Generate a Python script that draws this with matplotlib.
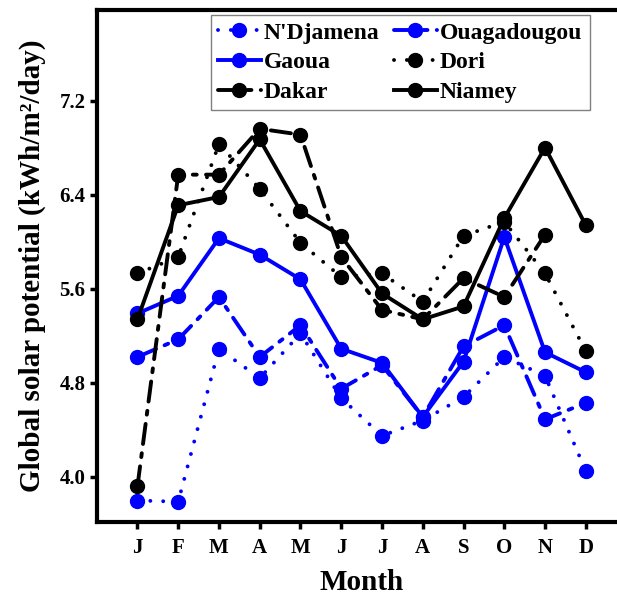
import numpy as np
import matplotlib
matplotlib.use("Agg")
from matplotlib import pyplot as plt

plt.rcParams['font.family'] = ['Liberation Serif', 'DejaVu Serif']
plt.rcParams['font.weight'] = 'bold'

# monthly global solar potential (kWh/m2/day)
months = np.arange(1, 13)
month_labels = ['J', 'F', 'M', 'A', 'M', 'J', 'J', 'A', 'S', 'O', 'N', 'D']

ndjamena = [3.80, 3.79, 5.09, 4.84, 5.22, 4.67, 4.35, 4.48, 4.68, 5.02, 4.86, 4.05]
ouagadougou = [5.02, 5.17, 5.53, 5.02, 5.29, 4.75, 4.95, 4.51, 5.11, 5.29, 4.49, 4.63]
gaoua = [5.39, 5.54, 6.03, 5.89, 5.68, 5.09, 4.97, 4.51, 4.98, 6.04, 5.06, 4.89]
dori = [5.73, 5.87, 6.83, 6.45, 5.99, 5.70, 5.73, 5.49, 6.05, 6.17, 5.73, 5.07]
dakar = [3.92, 6.57, 6.57, 6.96, 6.91, 5.87, 5.42, 5.34, 5.69, 5.53, 6.06, np.nan]
niamey = [5.34, 6.31, 6.38, 6.87, 6.26, 6.05, 5.56, 5.34, 5.45, 6.20, 6.80, 6.14]

fig = plt.figure(figsize=(6.17, 6.04), dpi=100)
ax = fig.add_axes([0.1567, 0.1363, 0.8588, 0.8472])

lw = 2.8
ms = 10
dot = (0.01, 3.3)
dashdot = (5.2, 2.4, 1.0, 2.4)

l_ndj, = ax.plot(months, ndjamena, color='blue', lw=lw, marker='o', ms=ms,
                 dashes=dot, dash_capstyle='round', label="N'Djamena")
l_oua, = ax.plot(months, ouagadougou, color='blue', lw=lw, marker='o', ms=ms,
                 dashes=dashdot, dash_capstyle='round', label='Ouagadougou')
l_gao, = ax.plot(months, gaoua, color='blue', lw=lw, marker='o', ms=ms,
                 label='Gaoua')
l_dor, = ax.plot(months, dori, color='black', lw=lw, marker='o', ms=ms,
                 dashes=dot, dash_capstyle='round', label='Dori')
l_dak, = ax.plot(months, dakar, color='black', lw=lw, marker='o', ms=ms,
                 dashes=dashdot, dash_capstyle='round', label='Dakar')
l_nia, = ax.plot(months, niamey, color='black', lw=lw, marker='o', ms=ms,
                 label='Niamey')

ax.set_xlim(0, 13)
ax.set_ylim(3.62, 7.97)
ax.set_xticks(months)
ax.set_xticklabels(month_labels)
ax.set_yticks([4.0, 4.8, 5.6, 6.4, 7.2])
ax.tick_params(direction='out', length=5, width=2.5, labelsize=15)
ax.tick_params(axis='x', pad=7)
ax.tick_params(axis='y', pad=3)
for sp in ax.spines.values():
    sp.set_linewidth(3)

ax.set_xlabel('Month', fontsize=21, fontweight='bold', labelpad=8)
ax.set_ylabel('Global solar potential (kWh/m²/day)', fontsize=21,
              fontweight='bold', labelpad=10)

# legend filled row by row
handles = [l_ndj, l_gao, l_dak, l_oua, l_dor, l_nia]
leg = ax.legend(handles=handles, labels=[h.get_label() for h in handles],
                ncol=2, loc='upper left', bbox_to_anchor=(0.2157, 0.99),
                borderaxespad=0, fancybox=False, framealpha=1,
                edgecolor='gray', handlelength=1.8,
                handletextpad=0.15, labelspacing=0.35, columnspacing=0.6,
                borderpad=0.3, prop={'weight': 'bold', 'size': 17})
leg.get_frame().set_linewidth(1)

fig.savefig('out.png', dpi=100)
